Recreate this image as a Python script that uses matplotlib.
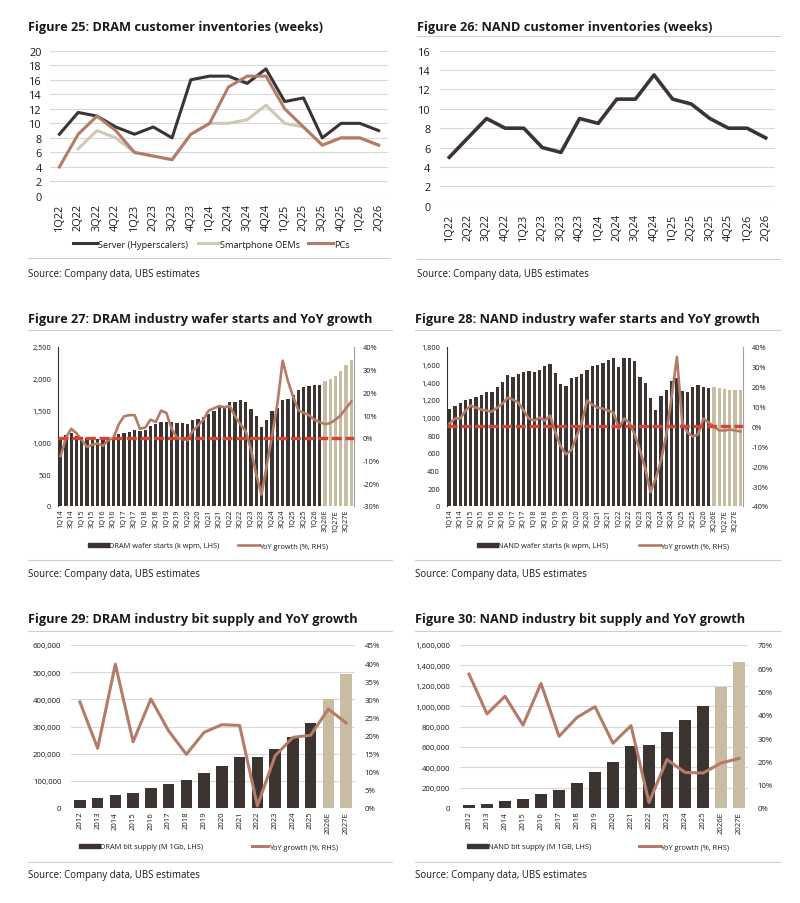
import matplotlib
matplotlib.use('Agg')
import matplotlib.pyplot as plt
import numpy as np
from matplotlib.ticker import FuncFormatter, MultipleLocator
from matplotlib.lines import Line2D
from matplotlib.patches import Patch

plt.rcParams['font.family'] = ['Open Sans', 'DejaVu Sans']

W, H = 800, 904

# ---------------- data ----------------
inv_quarters = ['1Q22', '2Q22', '3Q22', '4Q22', '1Q23', '2Q23', '3Q23', '4Q23', '1Q24',
                '2Q24', '3Q24', '4Q24', '1Q25', '2Q25', '3Q25', '4Q25', '1Q26', '2Q26']
dram_server = [8.5, 11.5, 11, 9.5, 8.5, 9.5, 8, 16, 16.5, 16.5, 15.5, 17.5, 13, 13.5, 8, 10, 10, 9]
dram_smartphone = [np.nan, 6.5, 9, 8, 6, 5.5, 5, 8.5, 10, 10, 10.5, 12.5, 10, 9.5, 7, 8, 8, 7]
dram_pcs = [4, 8.5, 11, 9, 6, 5.5, 5, 8.5, 10, 15, 16.5, 16.5, 12, 9.5, 7, 8, 8, 7]
nand_inv = [5, 7, 9, 8, 8, 6, 5.5, 9, 8.5, 11, 11, 13.5, 11, 10.5, 9, 8, 8, 7]

wafer_quarters = ['1Q14', '2Q14', '3Q14', '4Q14', '1Q15', '2Q15', '3Q15', '4Q15',
                  '1Q16', '2Q16', '3Q16', '4Q16', '1Q17', '2Q17', '3Q17', '4Q17',
                  '1Q18', '2Q18', '3Q18', '4Q18', '1Q19', '2Q19', '3Q19', '4Q19',
                  '1Q20', '2Q20', '3Q20', '4Q20', '1Q21', '2Q21', '3Q21', '4Q21',
                  '1Q22', '2Q22', '3Q22', '4Q22', '1Q23', '2Q23', '3Q23', '4Q23',
                  '1Q24', '2Q24', '3Q24', '4Q24', '1Q25', '2Q25', '3Q25', '4Q25',
                  '1Q26', '2Q26', '3Q26E', '4Q26E', '1Q27E', '2Q27E', '3Q27E', '4Q27E']
wafer_is_estimate = [False] * 50 + [True] * 6

dram_wafer = [1080, 1120, 1140, 1100, 1080, 1070, 1040, 1050, 1030, 1040, 1080, 1130,
              1140, 1160, 1200, 1185, 1190, 1255, 1290, 1325, 1325, 1315, 1300, 1305,
              1290, 1350, 1375, 1405, 1450, 1500, 1550, 1580, 1630, 1640, 1670, 1640,
              1530, 1420, 1250, 1360, 1490, 1540, 1660, 1680, 1750, 1830, 1870, 1890,
              1900, 1910, 1960, 2000, 2050, 2120, 2210, 2300]
dram_wafer_yoy = [-8, 0, 4, 2, -1, -4, -3, -2.5, -3.5, -1, 0, 6,
                  9.5, 10, 10, 4, 4.5, 8, 7, 12, 11, 4, 0, -0.5,
                  -1, 3, 5.5, 8, 12, 13, 14, 13.5, 14, 9.5, 6, 3,
                  -5, -16, -25, -12, 1, 15, 34, 25, 18, 12, 11, 10,
                  8, 7, 6, 6.5, 8, 10, 13, 16]

nand_wafer = [1100, 1130, 1165, 1200, 1210, 1230, 1260, 1295, 1295, 1350, 1400, 1485,
              1455, 1500, 1520, 1525, 1520, 1540, 1585, 1605, 1510, 1380, 1355, 1450,
              1465, 1500, 1545, 1585, 1600, 1620, 1655, 1675, 1575, 1680, 1680, 1640,
              1455, 1395, 1225, 1085, 1245, 1310, 1415, 1450, 1300, 1290, 1345, 1375,
              1345, 1335, 1350, 1340, 1320, 1310, 1310, 1310]
nand_wafer_yoy = [1.5, 4, 4, 8, 10.5, 9.5, 8.5, 8, 7.5, 9.5, 11.5, 14.5,
                  13.5, 12, 8, 4, 3, 4.5, 3, 5.5, -3, -10, -14, -12,
                  -5, 2, 13, 11, 9.5, 9, 8, 7, -1, 4, 2, -4,
                  -12, -21, -33, -26, -17, -4, 15, 35, 2, -3, -5, -4,
                  4, 2, 0, -2, -2, -1.5, -2, -2.5]

years = ['2012', '2013', '2014', '2015', '2016', '2017', '2018', '2019', '2020',
         '2021', '2022', '2023', '2024', '2025', '2026E', '2027E']
year_is_estimate = [False] * 14 + [True] * 2
dram_bits = [29000, 35000, 49000, 57000, 74000, 90000, 104000, 127000, 154000,
             189000, 189000, 218000, 260000, 312000, 401000, 493000]
dram_bits_yoy = [29.3, 16.5, 39.7, 18.3, 30.1, 21.3, 14.8, 20.9, 23.0,
                 22.8, 0.6, 14.4, 19.5, 20.1, 27.3, 23.5]
nand_bits = [29000, 44000, 64000, 88000, 134000, 173000, 242000, 350000, 448000,
             605000, 622000, 749000, 867000, 1001000, 1184000, 1436000]
nand_bits_yoy = [57.5, 40.4, 48.0, 35.6, 53.5, 30.8, 38.9, 43.5, 27.8,
                 35.4, 2.4, 20.8, 15.3, 15.0, 19.3, 21.3]

# ---------------- style ----------------
DARK = '#3b3430'
TAN = '#c8bca2'
YOY = '#b47c68'
RED = '#da4330'
SMART = '#cfc8b2'
GRID = '#d9d9d9'
SEP = '#cfcfcf'
TXT = '#1a1a1a'

fig = plt.figure(figsize=(W / 100, H / 100), dpi=100)


def rect(l, t, r, b):
    return [l / W, 1 - b / H, (r - l) / W, (b - t) / H]


def fx(x):
    return x / W


def fy(y):
    return 1 - y / H


def hline(x0, x1, y, color=SEP, lw=0.8):
    fig.add_artist(Line2D([fx(x0), fx(x1)], [fy(y), fy(y)], color=color, lw=lw))


def frame(x0, x1, ytitle, title, ysep_top, ysep_bot, ysrc):
    fig.text(fx(x0), fy(ytitle), title, fontsize=9.2, fontweight='bold',
             ha='left', va='center', color=TXT)
    if ysep_top is not None:
        hline(x0, x1, ysep_top)
    hline(x0, x1, ysep_bot)
    fig.text(fx(x0), fy(ysrc), 'Source: Company data, UBS estimates', fontsize=6.9,
             ha='left', va='center', color=TXT)


def leg(handle, label, x, y, fs, hl, hh=0.7):
    lg = fig.legend([handle], [label], loc='center left',
                    bbox_to_anchor=(fx(x), fy(y)), frameon=False, fontsize=fs,
                    handlelength=hl, handleheight=hh, handletextpad=0.1,
                    borderpad=0, borderaxespad=0, labelcolor=TXT)
    return lg


thousands = FuncFormatter(lambda v, p: f'{int(round(v)):,}')
pct = FuncFormatter(lambda v, p: f'{int(round(v))}%')

# ---------------- Figure 25 ----------------
frame(28, 390, 27, 'Figure 25: DRAM customer inventories (weeks)', None, 259, 274)
ax = fig.add_axes(rect(50, 51.7, 388, 197))
x = np.arange(len(inv_quarters))
ax.plot(x, dram_server, color=DARK, lw=2.2)
ax.plot(x, dram_smartphone, color=SMART, lw=2.2)
ax.plot(x, dram_pcs, color=YOY, lw=2.2)
ax.set_xlim(-0.5, len(x) - 0.5)
ax.set_ylim(0, 20)
ax.yaxis.set_major_locator(MultipleLocator(2))
ax.grid(axis='y', color=GRID, lw=0.8)
ax.set_axisbelow(True)
for s in ax.spines.values():
    s.set_visible(False)
ax.set_xticks(x)
ax.set_xticklabels(inv_quarters, rotation=90)
ax.tick_params(axis='both', length=0, labelsize=7.8, colors=TXT)
ax.tick_params(axis='y', pad=6)
ax.tick_params(axis='x', pad=5)
leg(Line2D([], [], color=DARK, lw=2.2), 'Server (Hyperscalers)', 73, 245, 6.6, 2.6)
leg(Line2D([], [], color=SMART, lw=2.2), 'Smartphone OEMs', 198, 245, 6.6, 2.3)
leg(Line2D([], [], color=YOY, lw=2.2), 'PCs', 308, 245, 6.6, 2.7)

# ---------------- Figure 26 ----------------
frame(417, 780, 27, 'Figure 26: NAND customer inventories (weeks)', 37, 260, 274)
ax = fig.add_axes(rect(440, 51.7, 775, 206.7))
ax.plot(x, nand_inv, color=DARK, lw=2.6)
ax.set_xlim(-0.5, len(x) - 0.5)
ax.set_ylim(0, 16)
ax.yaxis.set_major_locator(MultipleLocator(2))
ax.grid(axis='y', color=GRID, lw=0.8)
ax.set_axisbelow(True)
for s in ax.spines.values():
    s.set_visible(False)
ax.set_xticks(x)
ax.set_xticklabels(inv_quarters, rotation=90)
ax.tick_params(axis='both', length=0, labelsize=7.8, colors=TXT)
ax.tick_params(axis='y', pad=7)
ax.tick_params(axis='x', pad=5)


# ---------------- Figures 27/28 ----------------
def wafer_panel(l, r, values, yoy, ymax, ystep, rmin, rmax):
    ax = fig.add_axes(rect(l, 348, r, 507))
    xx = np.arange(len(wafer_quarters))
    cols = [TAN if e else DARK for e in wafer_is_estimate]
    ax.bar(xx, values, width=0.6, color=cols, linewidth=0)
    ax.set_xlim(-0.5, len(xx) - 0.5)
    ax.set_ylim(0, ymax)
    ax.yaxis.set_major_locator(MultipleLocator(ystep))
    ax.yaxis.set_major_formatter(thousands)
    ax.set_xticks(xx[::2])
    ax.set_xticklabels(wafer_quarters[::2], rotation=90)
    for k in ['top', 'right', 'bottom']:
        ax.spines[k].set_visible(False)
    ax.spines['left'].set_color('#333333')
    ax.spines['left'].set_linewidth(0.8)
    ax.tick_params(axis='both', length=0, labelsize=5.3, colors=TXT)
    ax.tick_params(axis='x', pad=2)
    ax.tick_params(axis='y', pad=5)
    ax2 = ax.twinx()
    ax2.plot(xx, yoy, color=YOY, lw=1.9)
    ax2.axhline(0, color=RED, lw=2.4, linestyle=(0, (3.0, 1.1)), zorder=3)
    ax2.set_ylim(rmin, rmax)
    ax2.yaxis.set_major_locator(MultipleLocator(10))
    ax2.yaxis.set_major_formatter(pct)
    for k in ['top', 'left', 'bottom']:
        ax2.spines[k].set_visible(False)
    ax2.spines['right'].set_color('#a0a0a0')
    ax2.spines['right'].set_linewidth(0.8)
    ax2.tick_params(axis='y', length=0, labelsize=5.3, colors=TXT, pad=6)
    return ax


frame(28, 392, 320, 'Figure 27: DRAM industry wafer starts and YoY growth', 331, 561, 575)
wafer_panel(58, 354, dram_wafer, dram_wafer_yoy, 2500, 500, -30, 40)
leg(Patch(color=DARK), 'DRAM wafer starts (k wpm, LHS)', 88, 547, 5.3, 2.8, 0.55)
leg(Line2D([], [], color=YOY, lw=1.9), 'YoY growth (%, RHS)', 238, 547, 5.3, 2.8)

frame(415, 780, 320, 'Figure 28: NAND industry wafer starts and YoY growth', 331, 561, 575)
wafer_panel(447, 743, nand_wafer, nand_wafer_yoy, 1800, 200, -40, 40)
leg(Patch(color=DARK), 'NAND wafer starts (k wpm, LHS)', 477, 547, 5.3, 2.8, 0.55)
leg(Line2D([], [], color=YOY, lw=1.9), 'YoY growth (%, RHS)', 639, 547, 5.3, 2.8)


# ---------------- Figures 29/30 ----------------
def bits_panel(l, r, values, yoy, ymax, ystep, rmax, rstep):
    ax = fig.add_axes(rect(l, 646, r, 809))
    xx = np.arange(len(years))
    cols = [TAN if e else DARK for e in year_is_estimate]
    ax.bar(xx, values, width=0.66, color=cols, linewidth=0, zorder=2)
    ax.set_xlim(-0.5, len(xx) - 0.5)
    ax.set_ylim(0, ymax)
    ax.yaxis.set_major_locator(MultipleLocator(ystep))
    ax.yaxis.set_major_formatter(thousands)
    ax.grid(axis='y', color=GRID, lw=0.8, zorder=0)
    ax.set_axisbelow(True)
    ax.set_xticks(xx)
    ax.set_xticklabels(years, rotation=90)
    for s in ax.spines.values():
        s.set_visible(False)
    ax.tick_params(axis='both', length=0, labelsize=5.6, colors=TXT)
    ax.tick_params(axis='x', pad=2)
    ax.tick_params(axis='y', pad=7)
    ax2 = ax.twinx()
    ax2.plot(xx, yoy, color=YOY, lw=2.2, zorder=3)
    ax2.set_ylim(0, rmax)
    ax2.yaxis.set_major_locator(MultipleLocator(rstep))
    ax2.yaxis.set_major_formatter(pct)
    for s in ax2.spines.values():
        s.set_visible(False)
    ax2.tick_params(axis='y', length=0, labelsize=5.6, colors=TXT, pad=7)
    return ax


frame(28, 392, 620, 'Figure 29: DRAM industry bit supply and YoY growth', 632, 863, 876)
bits_panel(71, 355, dram_bits, dram_bits_yoy, 600000, 100000, 45, 5)
leg(Patch(color=DARK), 'DRAM bit supply (M 1Gb, LHS)', 79, 848, 5.3, 2.8, 0.6)
leg(Line2D([], [], color=YOY, lw=2.2), 'YoY growth (%, RHS)', 252, 848, 5.3, 2.2)

frame(415, 780, 620, 'Figure 30: NAND industry bit supply and YoY growth', 632, 863, 876)
bits_panel(460, 748, nand_bits, nand_bits_yoy, 1600000, 200000, 70, 10)
leg(Patch(color=DARK), 'NAND bit supply (M 1GB, LHS)', 467, 848, 5.3, 2.8, 0.6)
leg(Line2D([], [], color=YOY, lw=2.2), 'YoY growth (%, RHS)', 639, 848, 5.3, 2.8)

fig.savefig('out.png', dpi=100, facecolor='white')
